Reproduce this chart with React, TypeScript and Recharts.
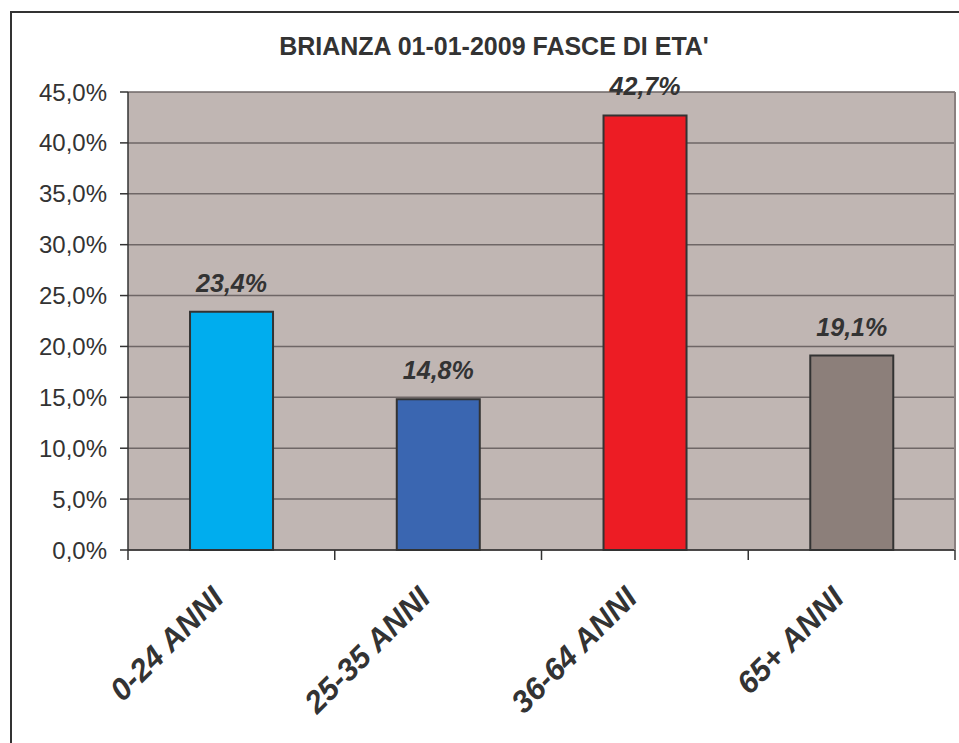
import { BarChart, Bar, XAxis, YAxis, CartesianGrid, Cell, LabelList } from "recharts";

const TITLE = "BRIANZA 01-01-2009 FASCE DI ETA'";
const CATEGORIES = ["0-24 ANNI", "25-35 ANNI", "36-64 ANNI", "65+ ANNI"];
const VALUES = [23.4, 14.8, 42.7, 19.1];
const BAR_COLORS = ["#00adee", "#3a66b1", "#ed1c24", "#8c7f7a"];
const Y_TICKS = [0, 5, 10, 15, 20, 25, 30, 35, 40, 45];

const TEXT = "#333333";
const FONT = "'Liberation Sans', Arial, sans-serif";

const data = CATEGORIES.map((name, i) => ({ name, value: VALUES[i] }));

const pct = (v: number) => v.toFixed(1).replace(".", ",") + "%";

// rotated label + tick marks on the category boundaries
function CategoryTick(props: any) {
  const { x, y, payload, index, visibleTicksCount } = props;
  const half = payload.offset || 0;
  const ax = x - 6;
  const ay = y + 50;
  const last = index === visibleTicksCount - 1;
  return (
    <g>
      <line x1={x - half} x2={x - half} y1={y} y2={y + 10} stroke={TEXT} strokeWidth={1.5} />
      {last && (
        <line x1={x + half} x2={x + half} y1={y} y2={y + 10} stroke={TEXT} strokeWidth={1.5} />
      )}
      <text
        x={ax}
        y={ay}
        transform={`rotate(-45, ${ax}, ${ay})`}
        textAnchor="end"
        fontFamily={FONT}
        fontSize={31}
        fontWeight="bold"
        fontStyle="italic"
        fill={TEXT}
      >
        {payload.value}
      </text>
    </g>
  );
}

export default function App() {
  return (
    <div
      style={{
        position: "absolute",
        left: 0,
        top: 0,
        width: 959,
        height: 743,
        overflow: "hidden",
        background: "#fff",
      }}
    >
      <div
        style={{
          position: "absolute",
          left: 10,
          top: 11,
          width: 980,
          height: 760,
          border: "2px solid #333",
        }}
      />
      <BarChart
        width={959}
        height={743}
        data={data}
        margin={{ top: 92, right: 0, bottom: 0, left: 0 }}
        barCategoryGap="30%"
        style={{ position: "absolute", left: 0, top: 0 }}
      >
        <XAxis
          xAxisId="cat"
          dataKey="name"
          height={193}
          tickLine={false}
          tickSize={0}
          tickMargin={0}
          interval={0}
          axisLine={{ stroke: TEXT, strokeWidth: 1.5 }}
          tick={<CategoryTick />}
        />
        <YAxis
          yAxisId="l"
          width={128}
          domain={[0, 45]}
          ticks={Y_TICKS}
          tickFormatter={pct}
          tickSize={8}
          tickMargin={13}
          interval={0}
          axisLine={{ stroke: TEXT, strokeWidth: 1.5 }}
          tickLine={{ stroke: TEXT, strokeWidth: 1.5 }}
          tick={{ fontFamily: FONT, fontSize: 24, fill: TEXT }}
        />
        <YAxis
          yAxisId="r"
          orientation="right"
          width={4}
          domain={[0, 45]}
          tick={false}
          tickLine={false}
          axisLine={{ stroke: "#8a8080", strokeWidth: 2 }}
        />
        <CartesianGrid
          xAxisId="cat"
          yAxisId="l"
          vertical={false}
          fill="#c0b6b3"
          fillOpacity={1}
          stroke="#6e6666"
          strokeWidth={1.5}
        />
        <Bar
          dataKey="value"
          xAxisId="cat"
          yAxisId="l"
          stroke={TEXT}
          strokeWidth={2}
          isAnimationActive={false}
        >
          {data.map((_, i) => (
            <Cell key={i} fill={BAR_COLORS[i]} />
          ))}
          <LabelList
            dataKey="value"
            position="top"
            offset={20}
            formatter={(v: any) => pct(Number(v))}
            style={{
              fontFamily: FONT,
              fontSize: 25,
              fontWeight: "bold",
              fontStyle: "italic",
              fill: TEXT,
            }}
          />
        </Bar>
      </BarChart>
      <svg
        width={959}
        height={80}
        style={{ position: "absolute", left: 0, top: 0, pointerEvents: "none" }}
      >
        <text
          x={494}
          y={55}
          textAnchor="middle"
          fontFamily={FONT}
          fontSize={25}
          fontWeight="bold"
          fill={TEXT}
        >
          {TITLE}
        </text>
      </svg>
    </div>
  );
}
